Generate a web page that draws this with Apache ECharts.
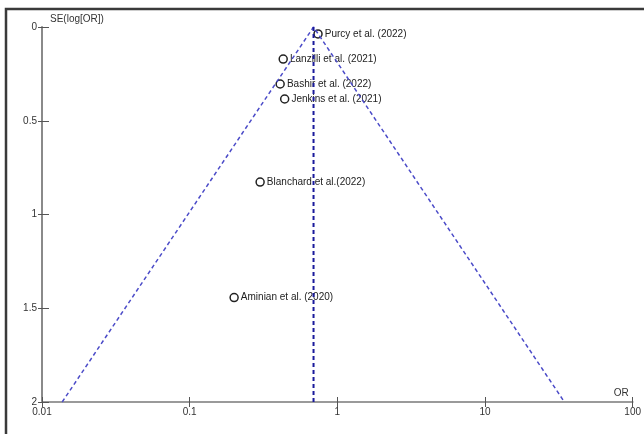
<!DOCTYPE html>
<html>
<head>
<meta charset="utf-8">
<script src="https://cdn.jsdelivr.net/npm/echarts@6/dist/echarts.min.js"></script>
<style>html,body{margin:0;padding:0;background:#fff;}#c{width:644px;height:434px;}</style>
</head>
<body>
<div id="c"></div>
<script>
// Studies: odds ratio (OR) and standard error of log(OR)
const studies = ["Purcy et al. (2022)", "Lanzilli et al. (2021)", "Bashir et al. (2022)", "Jenkins et al. (2021)", "Blanchard et al.(2022)", "Aminian et al. (2020)"];
const oddsRatios = [0.74, 0.43, 0.41, 0.44, 0.30, 0.20];
const seLogOR = [0.037, 0.171, 0.304, 0.384, 0.827, 1.443];
// Pooled estimate and funnel (95% limits)
const pooledOR = 0.69;
const funnelOR = [0.0137, 0.69, 34.5];
const funnelSE = [2, 0, 2];
const pooledSE = [0, 2];
const xTicks = [0.01, 0.1, 1, 10, 100];
const yTicks = [0, 0.5, 1, 1.5, 2];

const font = 'Liberation Sans, Arial, sans-serif';
const chart = echarts.init(document.getElementById('c'), null, {renderer: 'canvas'});

const axisX = {
  type: 'log', logBase: 10, min: xTicks[0], max: xTicks[xTicks.length - 1],
  position: 'bottom'
};
const axisY = {
  type: 'value', inverse: true, min: yTicks[0], max: yTicks[yTicks.length - 1], interval: 0.5,
  position: 'left'
};

chart.setOption({
  animation: false,
  backgroundColor: '#fff',
  grid: {left: 42, top: 27, right: 11, bottom: 32, containLabel: false},
  graphic: [{
    type: 'rect', shape: {x: 6, y: 9, width: 700, height: 500},
    style: {fill: 'none', stroke: '#3a3a3a', lineWidth: 2.5}, silent: true, z: 100
  }],
  xAxis: [Object.assign({}, axisX, {
    name: 'OR', nameLocation: 'end', nameGap: -4,
    nameTextStyle: {color: '#333', fontSize: 10, fontFamily: font, align: 'right', verticalAlign: 'bottom', padding: [0, 0, 4, 0]},
    axisLine: {show: true, onZero: false, lineStyle: {color: '#9a9a9a', width: 2}},
    axisTick: {show: true, inside: false, length: 5, lineStyle: {color: '#555', width: 1}},
    minorTick: {show: false}, splitLine: {show: false},
    axisLabel: {color: '#333', fontSize: 10, fontFamily: font, margin: 5,
      formatter: v => { const r = xTicks.find(t => Math.abs(t - v) / t < 1e-6); return r === undefined ? '' : String(r); }}
  }), Object.assign({}, axisX, {
    axisLine: {show: false, onZero: false}, axisLabel: {show: false}, splitLine: {show: false},
    axisTick: {show: true, inside: true, length: 5, lineStyle: {color: '#555', width: 1}}
  })],
  yAxis: [Object.assign({}, axisY, {
    name: 'SE(log[OR])', nameLocation: 'start', nameGap: 3,
    nameTextStyle: {color: '#333', fontSize: 10, fontFamily: font, align: 'left', padding: [0, 0, 0, 8]},
    axisLine: {show: true, onZero: false, lineStyle: {color: '#8a8a8a', width: 2}},
    axisTick: {show: true, inside: false, length: 4, lineStyle: {color: '#555', width: 1}},
    splitLine: {show: false},
    axisLabel: {color: '#333', fontSize: 10, fontFamily: font, margin: 5,
      formatter: v => String(v)}
  }), Object.assign({}, axisY, {
    axisLine: {show: false, onZero: false}, axisLabel: {show: false}, splitLine: {show: false},
    axisTick: {show: true, inside: true, length: 7, lineStyle: {color: '#555', width: 1}}
  })],
  series: [
    {
      type: 'scatter', xAxisIndex: 0, yAxisIndex: 0, z: 2,
      symbol: 'circle', symbolSize: 8,
      itemStyle: {color: '#fff', borderColor: '#222', borderWidth: 1.5, opacity: 1},
      label: {show: true, position: 'right', distance: 2, color: '#222', fontSize: 10, fontFamily: font,
        formatter: p => p.data.name},
      data: studies.map((s, i) => ({name: s, value: [oddsRatios[i], seLogOR[i]]}))
    },
    {
      type: 'line', xAxisIndex: 0, yAxisIndex: 0, z: 3, symbol: 'none',
      lineStyle: {color: '#4b4bc8', width: 1.5, type: [4, 3]},
      data: funnelOR.map((v, i) => [v, funnelSE[i]])
    },
    {
      type: 'line', xAxisIndex: 0, yAxisIndex: 0, z: 3, symbol: 'none',
      lineStyle: {color: '#1a1a9c', width: 2, type: [4, 3]},
      data: pooledSE.map(se => [pooledOR, se])
    }
  ]
});
</script>
</body>
</html>
